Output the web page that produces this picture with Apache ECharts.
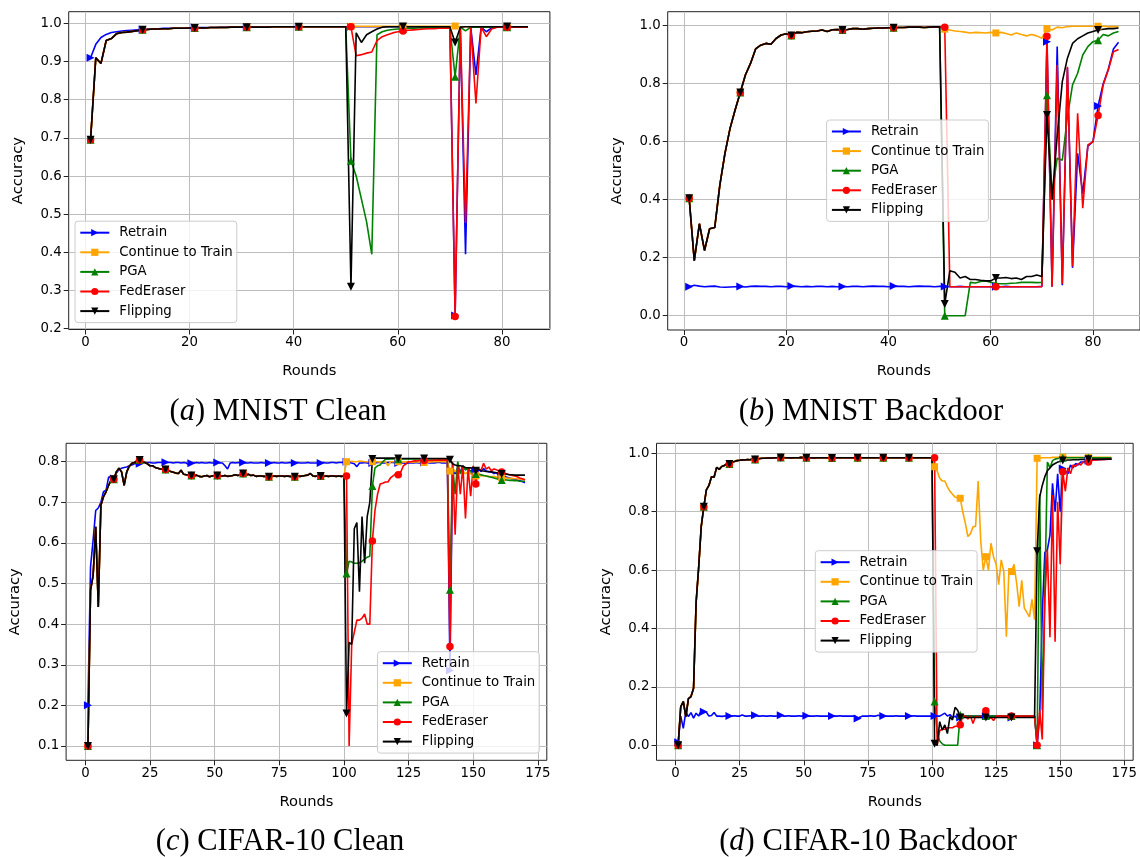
<!DOCTYPE html>
<html>
<head>
<meta charset="utf-8">
<title>Unlearning accuracy curves</title>
<script src="https://cdn.jsdelivr.net/npm/echarts@6/dist/echarts.min.js"></script>
<style>
  html, body { margin: 0; padding: 0; background: #fff; }
  #chart { width: 1140px; height: 857px; }
</style>
</head>
<body>
<div id="chart"></div>
<script>
// ---- methods ----
const methodNames = ['Retrain', 'Continue to Train', 'PGA', 'FedEraser', 'Flipping'];

// ---- tick labels ----
const mnistRoundTicks = [0, 20, 40, 60, 80];
const cifarRoundTicks = [0, 25, 50, 75, 100, 125, 150, 175];
const mnistCleanAccTicks = [0.2, 0.3, 0.4, 0.5, 0.6, 0.7, 0.8, 0.9, 1.0];
const backdoorAccTicks = [0.0, 0.2, 0.4, 0.6, 0.8, 1.0];
const cifarCleanAccTicks = [0.1, 0.2, 0.3, 0.4, 0.5, 0.6, 0.7, 0.8];

// ---- (a) MNIST clean, rounds 1..85 ----
// rounds 1-50 are the same curve for every method except Retrain
const mnistCleanWarmup = [
  0.695, 0.91, 0.895, 0.955, 0.96, 0.973, 0.976, 0.977, 0.979, 0.981,
  0.983, 0.984, 0.985, 0.985, 0.986, 0.986, 0.987, 0.987, 0.987, 0.988,
  0.988, 0.988, 0.988, 0.989, 0.989, 0.989, 0.989, 0.99, 0.99, 0.99,
  0.99, 0.99, 0.99, 0.99, 0.99, 0.991, 0.991, 0.991, 0.991, 0.991,
  0.991, 0.991, 0.991, 0.991, 0.991, 0.991, 0.991, 0.991, 0.991, 0.991
];
const mnistCleanRetrain = [
  0.91, 0.945, 0.963, 0.971, 0.976, 0.978, 0.98, 0.981, 0.982, 0.983,
  0.984, 0.985, 0.986, 0.986, 0.987, 0.987, 0.988, 0.988, 0.988, 0.988,
  0.989, 0.989, 0.989, 0.989, 0.989, 0.99, 0.99, 0.99, 0.99, 0.99,
  0.99, 0.99, 0.99, 0.99, 0.991, 0.991, 0.991, 0.991, 0.991, 0.991,
  0.991, 0.991, 0.991, 0.991, 0.991, 0.991, 0.991, 0.991, 0.991, 0.991,
  0.991, 0.991, 0.991, 0.991, 0.991, 0.991, 0.991, 0.991, 0.991, 0.991,
  0.991, 0.991, 0.991, 0.991, 0.991, 0.991, 0.991, 0.991, 0.991, 0.991,
  0.235, 0.99, 0.395, 0.99, 0.865, 0.99, 0.978, 0.988, 0.99, 0.99,
  0.99, 0.99, 0.99, 0.99, 0.99
];
const mnistCleanContinueTail = [
  0.992, 0.992, 0.992, 0.992, 0.992, 0.992, 0.992, 0.992, 0.992, 0.992,
  0.992, 0.992, 0.992, 0.992, 0.992, 0.992, 0.992, 0.992, 0.992, 0.992,
  0.993, 0.991, 0.991, 0.991, 0.991, 0.991, 0.991, 0.991, 0.991, 0.991,
  0.991, 0.991, 0.991, 0.991, 0.991
];
const mnistCleanPgaTail = [
  0.64, 0.60, 0.54, 0.48, 0.395, 0.97, 0.978, 0.982, 0.984, 0.985,
  0.986, 0.987, 0.987, 0.988, 0.988, 0.988, 0.989, 0.989, 0.989, 0.989,
  0.86, 0.99, 0.98, 0.99, 0.99, 0.99, 0.99, 0.99, 0.99, 0.99,
  0.99, 0.99, 0.99, 0.99, 0.99
];
const mnistCleanFedEraserTail = [
  0.991, 0.915, 0.918, 0.922, 0.925, 0.955, 0.965, 0.97, 0.975, 0.978,
  0.98, 0.982, 0.983, 0.984, 0.985, 0.986, 0.986, 0.987, 0.987, 0.988,
  0.232, 0.99, 0.477, 0.99, 0.79, 0.99, 0.965, 0.985, 0.99, 0.99,
  0.99, 0.99, 0.99, 0.99, 0.99
];
const mnistCleanFlippingTail = [
  0.31, 0.975, 0.95, 0.97, 0.978, 0.985, 0.99, 0.991, 0.991, 0.991,
  0.992, 0.991, 0.991, 0.991, 0.991, 0.991, 0.991, 0.991, 0.991, 0.991,
  0.95, 0.99, 0.991, 0.991, 0.991, 0.991, 0.991, 0.991, 0.991, 0.991,
  0.992, 0.991, 0.991, 0.991, 0.991
];

// ---- (b) MNIST backdoor, rounds 1..85 ----
const mnistBackdoorWarmup = [
  0.405, 0.19, 0.317, 0.225, 0.30, 0.304, 0.45, 0.56, 0.646, 0.71,
  0.77, 0.83, 0.87, 0.92, 0.933, 0.939, 0.936, 0.956, 0.968, 0.972,
  0.966, 0.977, 0.976, 0.979, 0.981, 0.982, 0.985, 0.98, 0.986, 0.987,
  0.985, 0.987, 0.99, 0.99, 0.988, 0.99, 0.991, 0.992, 0.992, 0.993,
  0.993, 0.994, 0.994, 0.995, 0.995, 0.995, 0.994, 0.995, 0.996, 0.996
];
const mnistBackdoorRetrain = [
  0.10, 0.105, 0.102, 0.10, 0.101, 0.102, 0.099, 0.098, 0.099, 0.10,
  0.101, 0.099, 0.101, 0.102, 0.101, 0.101, 0.10, 0.101, 0.101, 0.10,
  0.102, 0.101, 0.10, 0.101, 0.10, 0.101, 0.101, 0.10, 0.101, 0.10,
  0.101, 0.10, 0.101, 0.101, 0.10, 0.101, 0.102, 0.101, 0.101, 0.10,
  0.102, 0.101, 0.101, 0.10, 0.101, 0.102, 0.101, 0.101, 0.10, 0.101,
  0.101, 0.10, 0.10, 0.101, 0.10, 0.10, 0.10, 0.10, 0.10, 0.10,
  0.10, 0.10, 0.101, 0.10, 0.10, 0.10, 0.10, 0.10, 0.10, 0.101,
  0.945, 0.10, 0.928, 0.105, 0.855, 0.165, 0.56, 0.42, 0.585, 0.60,
  0.723, 0.80, 0.85, 0.92, 0.943
];
const mnistBackdoorContinueTail = [
  0.988, 0.985, 0.982, 0.98, 0.978, 0.975, 0.977, 0.976, 0.975, 0.977,
  0.975, 0.977, 0.973, 0.968, 0.975, 0.97, 0.965, 0.97, 0.965, 0.957,
  0.99, 0.985, 0.995, 0.993, 0.997, 0.998, 0.998, 0.998, 0.998, 0.998,
  0.998, 0.998, 0.997, 0.997, 0.997
];
const mnistBackdoorPgaTail = [
  0.0, 0.0, 0.0, 0.0, 0.0, 0.115, 0.113, 0.118, 0.12, 0.115,
  0.11, 0.11, 0.11, 0.112, 0.113, 0.115, 0.115, 0.115, 0.114, 0.115,
  0.76, 0.42, 0.543, 0.536, 0.686, 0.796, 0.836, 0.899, 0.928, 0.945,
  0.95, 0.97, 0.965, 0.975, 0.98
];
const mnistBackdoorFedEraserTail = [
  0.995, 0.10, 0.10, 0.10, 0.10, 0.10, 0.10, 0.10, 0.10, 0.10,
  0.10, 0.10, 0.10, 0.10, 0.10, 0.10, 0.10, 0.10, 0.10, 0.10,
  0.964, 0.10, 0.865, 0.11, 0.858, 0.17, 0.698, 0.371, 0.589, 0.60,
  0.69, 0.796, 0.847, 0.91, 0.918
];
const mnistBackdoorFlippingTail = [
  0.04, 0.155, 0.15, 0.13, 0.135, 0.125, 0.125, 0.122, 0.12, 0.12,
  0.13, 0.13, 0.132, 0.128, 0.13, 0.125, 0.135, 0.135, 0.14, 0.135,
  0.692, 0.40, 0.62, 0.807, 0.888, 0.939, 0.955, 0.965, 0.975, 0.98,
  0.985, 0.988, 0.99, 0.99, 0.992
];

// ---- (c) CIFAR-10 clean, rounds 1..170 ----
const cifarCleanWarmup = [
  0.10, 0.483, 0.52, 0.64, 0.442, 0.693, 0.714, 0.726, 0.742, 0.755,
  0.757, 0.775, 0.784, 0.775, 0.742, 0.775, 0.789, 0.796, 0.798, 0.802,
  0.804, 0.80, 0.798, 0.795, 0.79, 0.79, 0.786, 0.784, 0.782, 0.781,
  0.781, 0.778, 0.776, 0.774, 0.772, 0.771, 0.779, 0.769, 0.768, 0.767,
  0.766, 0.765, 0.767, 0.764, 0.763, 0.765, 0.766, 0.763, 0.765, 0.766,
  0.766, 0.764, 0.765, 0.766, 0.764, 0.765, 0.766, 0.768, 0.766, 0.768,
  0.771, 0.766, 0.769, 0.766, 0.767, 0.764, 0.765, 0.765, 0.764, 0.764,
  0.763, 0.764, 0.765, 0.764, 0.765, 0.765, 0.764, 0.765, 0.764, 0.763,
  0.763, 0.765, 0.764, 0.765, 0.766, 0.767, 0.771, 0.765, 0.764, 0.766,
  0.765, 0.764, 0.765, 0.764, 0.765, 0.765, 0.764, 0.765, 0.764, 0.765
];
const cifarCleanRetrain = [
  0.20, 0.541, 0.607, 0.68, 0.686, 0.70, 0.726, 0.73, 0.762, 0.762,
  0.759, 0.772, 0.781, 0.784, 0.786, 0.787, 0.79, 0.792, 0.795, 0.796,
  0.795, 0.797, 0.798, 0.798, 0.798, 0.797, 0.797, 0.798, 0.798, 0.798,
  0.799, 0.798, 0.798, 0.797, 0.798, 0.798, 0.797, 0.798, 0.797, 0.793,
  0.796, 0.797, 0.798, 0.797, 0.798, 0.797, 0.797, 0.798, 0.797, 0.797,
  0.798, 0.797, 0.797, 0.79, 0.782, 0.797, 0.798, 0.797, 0.798, 0.797,
  0.798, 0.797, 0.797, 0.798, 0.797, 0.797, 0.797, 0.798, 0.797, 0.797,
  0.797, 0.797, 0.798, 0.797, 0.797, 0.798, 0.797, 0.797, 0.798, 0.797,
  0.797, 0.798, 0.797, 0.797, 0.797, 0.798, 0.797, 0.797, 0.797, 0.797,
  0.797, 0.798, 0.797, 0.797, 0.798, 0.798, 0.797, 0.798, 0.798, 0.798,
  0.80, 0.798, 0.797, 0.795, 0.788, 0.797, 0.797, 0.798, 0.797, 0.796,
  0.797, 0.797, 0.798, 0.798, 0.797, 0.797, 0.798, 0.798, 0.798, 0.797,
  0.797, 0.797, 0.797, 0.796, 0.797, 0.797, 0.797, 0.798, 0.797, 0.797,
  0.798, 0.798, 0.797, 0.797, 0.797, 0.798, 0.798, 0.797, 0.797, 0.797,
  0.286, 0.785, 0.77, 0.785, 0.775, 0.79, 0.78, 0.785, 0.775, 0.785,
  0.778, 0.782, 0.776, 0.783, 0.777, 0.775, 0.775, 0.771, 0.773, 0.765,
  0.766, 0.764, 0.762, 0.76, 0.758, 0.757, 0.755, 0.753, 0.751, 0.748
];
const cifarCleanContinueTail = [
  0.80, 0.80, 0.801, 0.80, 0.80, 0.802, 0.801, 0.80, 0.80, 0.80,
  0.80, 0.80, 0.80, 0.799, 0.80, 0.80, 0.79, 0.80, 0.80, 0.80,
  0.80, 0.80, 0.799, 0.80, 0.80, 0.798, 0.799, 0.80, 0.799, 0.799,
  0.798, 0.799, 0.799, 0.80, 0.80, 0.80, 0.80, 0.80, 0.80, 0.80,
  0.777, 0.785, 0.775, 0.78, 0.772, 0.778, 0.77, 0.775, 0.77, 0.772,
  0.765, 0.768, 0.765, 0.766, 0.765, 0.764, 0.763, 0.764, 0.762, 0.762,
  0.761, 0.76, 0.76, 0.759, 0.759, 0.758, 0.758, 0.757, 0.757, 0.757
];
const cifarCleanPgaTail = [
  0.525, 0.555, 0.553, 0.55, 0.55, 0.551, 0.555, 0.56, 0.565, 0.567,
  0.74, 0.785, 0.79, 0.792, 0.80, 0.806, 0.806, 0.807, 0.807, 0.807,
  0.806, 0.807, 0.807, 0.807, 0.807, 0.807, 0.807, 0.807, 0.807, 0.807,
  0.808, 0.807, 0.807, 0.807, 0.807, 0.807, 0.806, 0.806, 0.806, 0.806,
  0.485, 0.795, 0.72, 0.80, 0.77, 0.79, 0.78, 0.785, 0.775, 0.775,
  0.77, 0.77, 0.768, 0.766, 0.765, 0.763, 0.762, 0.76, 0.758, 0.757,
  0.755, 0.756, 0.755, 0.754, 0.754, 0.753, 0.753, 0.752, 0.752, 0.752
];
const cifarCleanFedEraserTail = [
  0.765, 0.10, 0.35, 0.38, 0.41, 0.41, 0.415, 0.425, 0.40, 0.40,
  0.605, 0.68, 0.72, 0.745, 0.747, 0.75, 0.75, 0.76, 0.765, 0.77,
  0.768, 0.775, 0.79, 0.795, 0.80, 0.80, 0.802, 0.802, 0.803, 0.803,
  0.803, 0.803, 0.803, 0.803, 0.804, 0.804, 0.804, 0.804, 0.804, 0.804,
  0.345, 0.80, 0.62, 0.79, 0.72, 0.79, 0.66, 0.785, 0.715, 0.79,
  0.745, 0.785, 0.778, 0.796, 0.782, 0.787, 0.778, 0.782, 0.78, 0.777,
  0.775, 0.772, 0.77, 0.768, 0.766, 0.765, 0.763, 0.76, 0.758, 0.755
];
const cifarCleanFlippingTail = [
  0.18, 0.355, 0.35, 0.635, 0.65, 0.48, 0.665, 0.55, 0.665, 0.70,
  0.807, 0.809, 0.809, 0.809, 0.809, 0.809, 0.809, 0.809, 0.809, 0.809,
  0.808, 0.808, 0.808, 0.808, 0.808, 0.808, 0.808, 0.808, 0.808, 0.808,
  0.808, 0.808, 0.808, 0.808, 0.808, 0.808, 0.808, 0.808, 0.808, 0.808,
  0.805, 0.795, 0.792, 0.79, 0.79, 0.788, 0.786, 0.785, 0.785, 0.783,
  0.778, 0.78, 0.778, 0.777, 0.776, 0.776, 0.775, 0.774, 0.773, 0.772,
  0.77, 0.77, 0.769, 0.768, 0.768, 0.767, 0.767, 0.767, 0.767, 0.767
];

// ---- (d) CIFAR-10 backdoor, rounds 1..170 ----
const cifarBackdoorWarmup = [
  0.0, 0.132, 0.15, 0.098, 0.16, 0.167, 0.195, 0.49, 0.61, 0.75,
  0.817, 0.875, 0.89, 0.92, 0.918, 0.952, 0.945, 0.955, 0.958, 0.965,
  0.963, 0.97, 0.972, 0.975, 0.976, 0.978, 0.977, 0.979, 0.978, 0.98,
  0.979, 0.981, 0.982, 0.983, 0.983, 0.984, 0.984, 0.984, 0.985, 0.985,
  0.986, 0.985, 0.985, 0.985, 0.984, 0.985, 0.985, 0.985, 0.986, 0.985,
  0.985, 0.985, 0.985, 0.984, 0.985, 0.985, 0.985, 0.985, 0.985, 0.985,
  0.984, 0.985, 0.985, 0.985, 0.985, 0.985, 0.985, 0.985, 0.985, 0.985,
  0.985, 0.985, 0.985, 0.985, 0.985, 0.985, 0.985, 0.985, 0.985, 0.985,
  0.985, 0.985, 0.985, 0.985, 0.985, 0.985, 0.985, 0.985, 0.985, 0.985,
  0.985, 0.985, 0.985, 0.985, 0.985, 0.985, 0.985, 0.985, 0.985, 0.985
];
const cifarBackdoorRetrain = [
  0.01, 0.10, 0.058, 0.115, 0.098, 0.112, 0.093, 0.11, 0.10, 0.12,
  0.115, 0.113, 0.10, 0.102, 0.112, 0.10, 0.10, 0.099, 0.10, 0.101,
  0.10, 0.10, 0.101, 0.10, 0.10, 0.104, 0.10, 0.10, 0.101, 0.10,
  0.103, 0.10, 0.10, 0.101, 0.10, 0.10, 0.101, 0.10, 0.10, 0.101,
  0.103, 0.10, 0.10, 0.101, 0.10, 0.10, 0.10, 0.101, 0.10, 0.10,
  0.101, 0.10, 0.10, 0.10, 0.101, 0.10, 0.10, 0.10, 0.10, 0.10,
  0.10, 0.10, 0.10, 0.101, 0.10, 0.10, 0.10, 0.10, 0.10, 0.10,
  0.092, 0.097, 0.10, 0.10, 0.10, 0.101, 0.10, 0.10, 0.103, 0.10,
  0.10, 0.10, 0.10, 0.10, 0.10, 0.101, 0.10, 0.10, 0.10, 0.10,
  0.10, 0.10, 0.101, 0.10, 0.10, 0.10, 0.10, 0.10, 0.10, 0.10,
  0.10, 0.10, 0.10, 0.105, 0.11, 0.10, 0.105, 0.095, 0.10, 0.09,
  0.095, 0.10, 0.10, 0.10, 0.10, 0.10, 0.10, 0.10, 0.10, 0.10,
  0.10, 0.10, 0.10, 0.10, 0.10, 0.10, 0.10, 0.10, 0.10, 0.10,
  0.095, 0.10, 0.10, 0.10, 0.10, 0.10, 0.10, 0.10, 0.10, 0.10,
  0.0, 0.10, 0.45, 0.66, 0.67, 0.72, 0.897, 0.80, 0.93, 0.80,
  0.948, 0.94, 0.93, 0.96, 0.95, 0.965, 0.96, 0.97, 0.97, 0.975,
  0.975, 0.976, 0.977, 0.978, 0.978, 0.979, 0.979, 0.98, 0.98, 0.98
];
const cifarBackdoorContinueTail = [
  0.954, 0.94, 0.915, 0.905, 0.905, 0.885, 0.87, 0.86, 0.85, 0.847,
  0.846, 0.80, 0.76, 0.715, 0.725, 0.748, 0.75, 0.905, 0.70, 0.60,
  0.646, 0.60, 0.692, 0.645, 0.62, 0.55, 0.635, 0.595, 0.372, 0.60,
  0.595, 0.62, 0.555, 0.475, 0.565, 0.47, 0.455, 0.44, 0.50, 0.43,
  0.983, 0.984, 0.985, 0.985, 0.985, 0.985, 0.986, 0.986, 0.986, 0.986,
  0.987, 0.986, 0.986, 0.986, 0.986, 0.986, 0.986, 0.986, 0.986, 0.986,
  0.986, 0.986, 0.986, 0.986, 0.986, 0.986, 0.986, 0.986, 0.986, 0.986
];
const cifarBackdoorPgaTail = [
  0.15, 0.045, 0.015, 0.005, 0.0, 0.0, 0.0, 0.0, 0.0, 0.0,
  0.105, 0.105, 0.10, 0.10, 0.10, 0.10, 0.10, 0.10, 0.10, 0.10,
  0.10, 0.10, 0.10, 0.10, 0.10, 0.10, 0.10, 0.10, 0.10, 0.10,
  0.10, 0.10, 0.10, 0.10, 0.10, 0.10, 0.10, 0.10, 0.10, 0.10,
  0.0, 0.86, 0.12, 0.52, 0.97, 0.95, 0.975, 0.98, 0.982, 0.983,
  0.985, 0.985, 0.985, 0.985, 0.985, 0.985, 0.985, 0.985, 0.985, 0.985,
  0.985, 0.985, 0.985, 0.985, 0.985, 0.985, 0.985, 0.985, 0.985, 0.985
];
const cifarBackdoorFedEraserTail = [
  0.985, 0.0, 0.05, 0.055, 0.055, 0.06, 0.06, 0.06, 0.065, 0.065,
  0.07, 0.10, 0.10, 0.09, 0.10, 0.075, 0.10, 0.095, 0.10, 0.095,
  0.118, 0.09, 0.095, 0.085, 0.10, 0.10, 0.10, 0.10, 0.10, 0.10,
  0.10, 0.10, 0.10, 0.10, 0.10, 0.10, 0.10, 0.10, 0.10, 0.10,
  0.0, 0.12, 0.02, 0.50, 0.67, 0.37, 0.857, 0.355, 0.834, 0.62,
  0.937, 0.87, 0.95, 0.93, 0.96, 0.955, 0.965, 0.96, 0.97, 0.972,
  0.97, 0.975, 0.976, 0.977, 0.978, 0.978, 0.979, 0.979, 0.98, 0.98
];
const cifarBackdoorFlippingTail = [
  0.005, 0.0, 0.081, 0.052, 0.07, 0.04, 0.098, 0.087, 0.13, 0.12,
  0.095, 0.095, 0.095, 0.095, 0.095, 0.095, 0.095, 0.095, 0.095, 0.095,
  0.095, 0.095, 0.095, 0.095, 0.095, 0.095, 0.095, 0.095, 0.095, 0.095,
  0.095, 0.095, 0.095, 0.095, 0.095, 0.095, 0.095, 0.095, 0.095, 0.095,
  0.665, 0.85, 0.89, 0.92, 0.94, 0.95, 0.96, 0.965, 0.97, 0.972,
  0.975, 0.976, 0.977, 0.977, 0.978, 0.978, 0.978, 0.979, 0.979, 0.979,
  0.98, 0.98, 0.98, 0.98, 0.98, 0.98, 0.98, 0.98, 0.98, 0.98
];

// ---- styling ----
const methodColors = ['#0000ff', '#ffa500', '#008000', '#ff0000', '#000000'];
const methodSymbols = [
  'path://M0,0L10,5L0,10Z',   // right-pointing triangle
  'rect',
  'triangle',
  'circle',
  'path://M0,0L10,0L5,10Z'    // down-pointing triangle
];
const markerSizes = [8, 7, 8, 7.5, 8];
const sansFont = 'DejaVu Sans';
const serifFont = 'Liberation Serif';

const panels = [
  {
    grid: { left: 68.7, top: 11.7, width: 481.2, height: 317.8 },
    xRange: [-3.2, 89.2], yRange: [0.198, 1.0305],
    xTicks: mnistRoundTicks, yTicks: mnistCleanAccTicks,
    legendPos: { left: 75, top: 221.2 },
    caption: { x: 278, y: 412, letter: 'a', title: 'MNIST Clean' },
    values: [
      mnistCleanRetrain,
      [...mnistCleanWarmup, ...mnistCleanContinueTail],
      [...mnistCleanWarmup, ...mnistCleanPgaTail],
      [...mnistCleanWarmup, ...mnistCleanFedEraserTail],
      [...mnistCleanWarmup, ...mnistCleanFlippingTail]
    ]
  },
  {
    grid: { left: 667.7, top: 11.7, width: 481.2, height: 318.3 },
    xRange: [-3.2, 89.2], yRange: [-0.0493, 1.0483],
    xTicks: mnistRoundTicks, yTicks: backdoorAccTicks,
    legendPos: { left: 826.6, top: 120 },
    caption: { x: 871, y: 412, letter: 'b', title: 'MNIST Backdoor' },
    values: [
      mnistBackdoorRetrain,
      [...mnistBackdoorWarmup, ...mnistBackdoorContinueTail],
      [...mnistBackdoorWarmup, ...mnistBackdoorPgaTail],
      [...mnistBackdoorWarmup, ...mnistBackdoorFedEraserTail],
      [...mnistBackdoorWarmup, ...mnistBackdoorFlippingTail]
    ]
  },
  {
    grid: { left: 66.1, top: 443.3, width: 480.7, height: 317 },
    xRange: [-7.45, 178.45], yRange: [0.0647, 0.8454],
    xTicks: cifarRoundTicks, yTicks: cifarCleanAccTicks,
    legendPos: { left: 377.5, top: 651.7 },
    caption: { x: 280, y: 842, letter: 'c', title: 'CIFAR-10 Clean' },
    values: [
      cifarCleanRetrain,
      [...cifarCleanWarmup, ...cifarCleanContinueTail],
      [...cifarCleanWarmup, ...cifarCleanPgaTail],
      [...cifarCleanWarmup, ...cifarCleanFedEraserTail],
      [...cifarCleanWarmup, ...cifarCleanFlippingTail]
    ]
  },
  {
    grid: { left: 656.5, top: 443.3, width: 478.9, height: 317 },
    xRange: [-7.45, 178.45], yRange: [-0.0514, 1.0343],
    xTicks: cifarRoundTicks, yTicks: backdoorAccTicks,
    legendPos: { left: 815.3, top: 550.7 },
    caption: { x: 868, y: 842, letter: 'd', title: 'CIFAR-10 Backdoor' },
    values: [
      cifarBackdoorRetrain,
      [...cifarBackdoorWarmup, ...cifarBackdoorContinueTail],
      [...cifarBackdoorWarmup, ...cifarBackdoorPgaTail],
      [...cifarBackdoorWarmup, ...cifarBackdoorFedEraserTail],
      [...cifarBackdoorWarmup, ...cifarBackdoorFlippingTail]
    ]
  }
];

const chart = echarts.init(document.getElementById('chart'));

const option = {
  animation: false,
  backgroundColor: '#ffffff',
  grid: panels.map(p => ({
    ...p.grid,
    show: true,
    borderColor: '#222',
    borderWidth: 1,
    backgroundColor: 'transparent'
  })),
  xAxis: panels.map((p, i) => ({
    gridIndex: i,
    type: 'value',
    min: p.xRange[0],
    max: p.xRange[1],
    axisLine: { show: false, onZero: false },
    axisTick: { show: true, length: 5, customValues: p.xTicks, lineStyle: { color: '#222' } },
    axisLabel: {
      customValues: p.xTicks, margin: 6.5, fontSize: 13.3, fontFamily: sansFont, color: '#000',
      formatter: v => String(v)
    },
    splitLine: { show: true, lineStyle: { color: '#bdbdbd', width: 1 } },
    name: 'Rounds',
    nameLocation: 'middle',
    nameGap: 34,
    nameTextStyle: { fontSize: 14.7, fontFamily: sansFont, color: '#000' }
  })),
  yAxis: panels.map((p, i) => ({
    gridIndex: i,
    type: 'value',
    min: p.yRange[0],
    max: p.yRange[1],
    axisLine: { show: false, onZero: false },
    axisTick: { show: true, length: 5, customValues: p.yTicks, lineStyle: { color: '#222' } },
    axisLabel: {
      customValues: p.yTicks, margin: 7, fontSize: 13.3, fontFamily: sansFont, color: '#000',
      formatter: v => v.toFixed(1)
    },
    splitLine: { show: true, lineStyle: { color: '#bdbdbd', width: 1 } },
    name: 'Accuracy',
    nameLocation: 'middle',
    nameGap: 43,
    nameTextStyle: { fontSize: 14.7, fontFamily: sansFont, color: '#000' }
  })),
  legend: panels.map(p => ({
    orient: 'vertical',
    left: p.legendPos.left,
    top: p.legendPos.top,
    data: methodNames,
    selectedMode: false,
    itemWidth: 29,
    itemHeight: 9,
    itemGap: 5.6,
    padding: [4.5, 4, 4.5, 4.3],
    backgroundColor: 'rgba(255,255,255,0.8)',
    borderColor: '#cccccc',
    borderWidth: 1,
    borderRadius: 3,
    textStyle: { fontSize: 13.3, fontFamily: sansFont, color: '#000', lineHeight: 14, padding: [0, 0, 0, 5] }
  })),
  graphic: panels.map(p => ({
    type: 'text',
    x: p.caption.x,
    y: p.caption.y,
    style: {
      text: '{n|(}{i|' + p.caption.letter + '}{n|) ' + p.caption.title + '}',
      align: 'center',
      verticalAlign: 'middle',
      textAlign: 'center',
      textVerticalAlign: 'middle',
      fill: '#000',
      fontSize: 30.5,
      fontFamily: serifFont,
      rich: {
        n: { fontSize: 30.5, fontFamily: serifFont, fill: '#000' },
        i: { fontSize: 30.5, fontFamily: serifFont, fontStyle: 'italic', fill: '#000' }
      }
    }
  })),
  series: panels.flatMap((p, pi) => p.values.map((vals, m) => ({
    name: methodNames[m],
    type: 'line',
    xAxisIndex: pi,
    yAxisIndex: pi,
    data: vals.map((v, i) => [i + 1, v]),
    symbol: methodSymbols[m],
    symbolSize: (val, params) => (params.dataIndex % 10 === 0 ? markerSizes[m] : 0),
    showSymbol: true,
    lineStyle: { color: methodColors[m], width: 1.6 },
    itemStyle: { color: methodColors[m] },
    emphasis: { disabled: true }
  })))
};

chart.setOption(option);
</script>
</body>
</html>
